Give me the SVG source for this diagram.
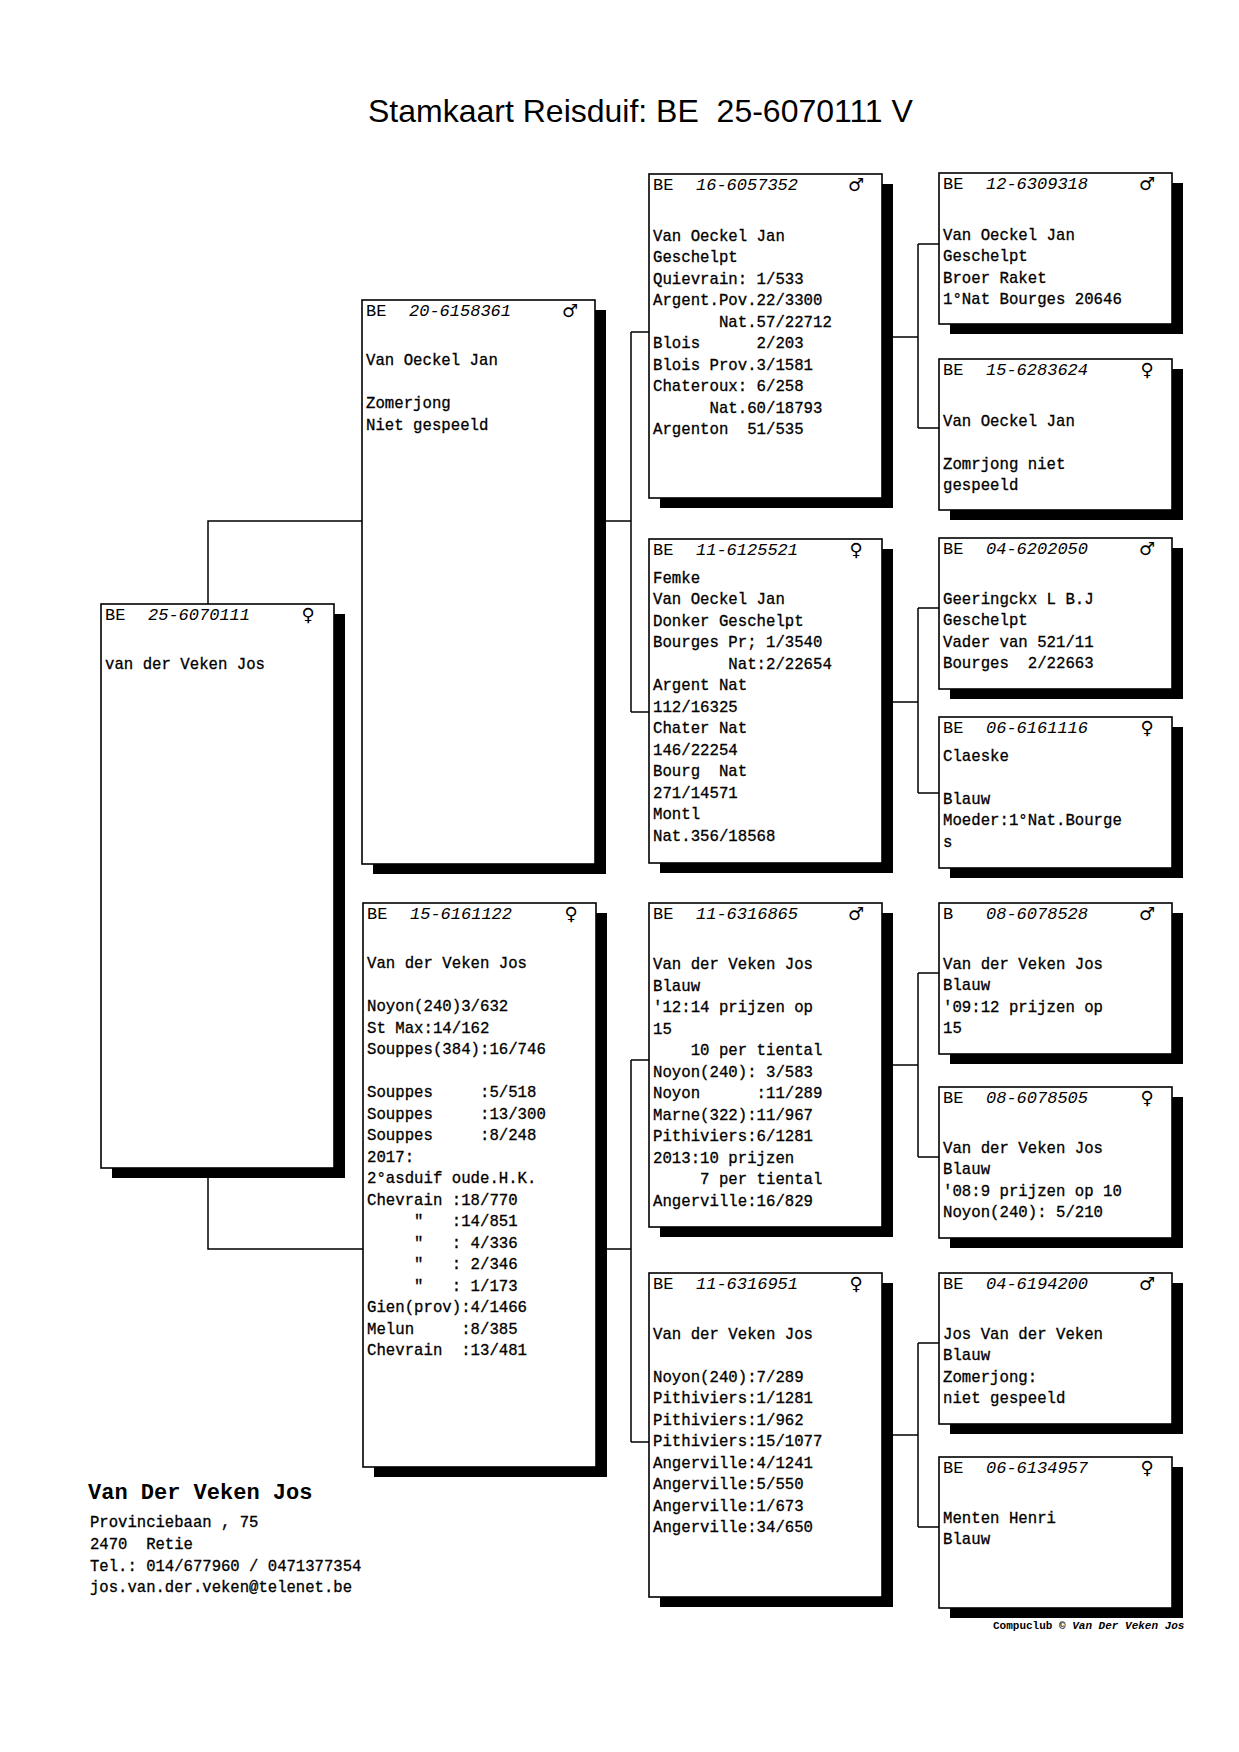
<svg xmlns="http://www.w3.org/2000/svg" width="1239" height="1752" viewBox="0 0 1239 1752">
<style>
.bg{fill:#fff}
.shadow{fill:#000}
.box{fill:#fff;stroke:#000;stroke-width:1.6}
.conn{fill:none;stroke:#000;stroke-width:1.5}
.t{font-family:"Liberation Mono","Courier New",monospace;font-size:15.7px;fill:#000;stroke:#000;stroke-width:0.3;white-space:pre}
.hb{font-family:"Liberation Mono","Courier New",monospace;font-size:17px;fill:#000;white-space:pre}
.hn{font-family:"Liberation Mono","Courier New",monospace;font-size:17px;font-style:italic;fill:#000}
.g{font-family:"DejaVu Sans",sans-serif;font-size:18px;font-weight:bold;fill:#000;text-anchor:middle}
.title{font-family:"Liberation Sans",Arial,sans-serif;font-size:32px;fill:#000;white-space:pre}
.own{font-family:"Liberation Mono","Courier New",monospace;font-size:22px;font-weight:bold;fill:#000}
.addr{font-family:"Liberation Mono","Courier New",monospace;font-size:15.6px;fill:#000;stroke:#000;stroke-width:0.3;white-space:pre}
.cc{font-family:"Liberation Mono","Courier New",monospace;font-size:11px;font-weight:bold;fill:#000}
</style>
<rect class="bg" x="0" y="0" width="1239" height="1752"/>
<text class="title" x="368" y="122">Stamkaart Reisduif: BE  25-6070111 V</text>

<g id="connectors">
<path class="conn" d="M208 604 V521 H362 M208 1168 V1249 H363"/>
<path class="conn" d="M595 521 H631 M631 332 V712 M631 332 H649 M631 712 H649"/>
<path class="conn" d="M596 1249 H631 M631 1060 V1442 M631 1060 H649 M631 1442 H649"/>
<path class="conn" d="M882 337 H918 M918 244 V428 M918 244 H939 M918 428 H939"/>
<path class="conn" d="M882 702 H918 M918 608 V793 M918 608 H939 M918 793 H939"/>
<path class="conn" d="M882 1065 H918 M918 973 V1157 M918 973 H939 M918 1157 H939"/>
<path class="conn" d="M882 1435 H918 M918 1343 V1527 M918 1343 H939 M918 1527 H939"/>
</g>

<g id="root">
<rect class="shadow" x="112" y="614" width="233" height="564"/>
<rect class="box" x="101" y="604" width="233" height="564"/>
<text class="hb" x="105" y="620">BE</text><text class="hn" x="148" y="620">25-6070111</text><text class="g" x="308" y="621">♀</text>
<text class="t" x="105" y="669">van der Veken Jos</text>
</g>

<g id="sire">
<rect class="shadow" x="373" y="310" width="233" height="564"/>
<rect class="box" x="362" y="300" width="233" height="564"/>
<text class="hb" x="366" y="316">BE</text><text class="hn" x="409" y="316">20-6158361</text><text class="g" x="570" y="317">♂</text>
<text class="t" x="366" y="365">Van Oeckel Jan</text>
<text class="t" x="366" y="408">Zomerjong</text>
<text class="t" x="366" y="429.5">Niet gespeeld</text>
</g>

<g id="dam">
<rect class="shadow" x="374" y="913" width="233" height="564"/>
<rect class="box" x="363" y="903" width="233" height="564"/>
<text class="hb" x="367" y="919">BE</text><text class="hn" x="410" y="919">15-6161122</text><text class="g" x="571" y="920">♀</text>
<text class="t" x="367" y="968">Van der Veken Jos</text>
<text class="t" x="367" y="1011">Noyon(240)3/632</text>
<text class="t" x="367" y="1032.5">St Max:14/162</text>
<text class="t" x="367" y="1054">Souppes(384):16/746</text>
<text class="t" x="367" y="1097">Souppes     :5/518</text>
<text class="t" x="367" y="1118.5">Souppes     :13/300</text>
<text class="t" x="367" y="1140">Souppes     :8/248</text>
<text class="t" x="367" y="1161.5">2017:</text>
<text class="t" x="367" y="1183">2°asduif oude.H.K.</text>
<text class="t" x="367" y="1204.5">Chevrain :18/770</text>
<text class="t" x="367" y="1226">     "   :14/851</text>
<text class="t" x="367" y="1247.5">     "   : 4/336</text>
<text class="t" x="367" y="1269">     "   : 2/346</text>
<text class="t" x="367" y="1290.5">     "   : 1/173</text>
<text class="t" x="367" y="1312">Gien(prov):4/1466</text>
<text class="t" x="367" y="1333.5">Melun     :8/385</text>
<text class="t" x="367" y="1355">Chevrain  :13/481</text>
</g>

<g id="ss">
<rect class="shadow" x="660" y="184" width="233" height="324"/>
<rect class="box" x="649" y="174" width="233" height="324"/>
<text class="hb" x="653" y="190">BE</text><text class="hn" x="696" y="190">16-6057352</text><text class="g" x="856" y="191">♂</text>
<text class="t" x="653" y="240.5">Van Oeckel Jan</text>
<text class="t" x="653" y="262">Geschelpt</text>
<text class="t" x="653" y="283.5">Quievrain: 1/533</text>
<text class="t" x="653" y="305">Argent.Pov.22/3300</text>
<text class="t" x="653" y="326.5">       Nat.57/22712</text>
<text class="t" x="653" y="348">Blois      2/203</text>
<text class="t" x="653" y="369.5">Blois Prov.3/1581</text>
<text class="t" x="653" y="391">Chateroux: 6/258</text>
<text class="t" x="653" y="412.5">      Nat.60/18793</text>
<text class="t" x="653" y="434">Argenton  51/535</text>
</g>

<g id="sd">
<rect class="shadow" x="660" y="549" width="233" height="324"/>
<rect class="box" x="649" y="539" width="233" height="324"/>
<text class="hb" x="653" y="555">BE</text><text class="hn" x="696" y="555">11-6125521</text><text class="g" x="856" y="556">♀</text>
<text class="t" x="653" y="582.5">Femke</text>
<text class="t" x="653" y="604">Van Oeckel Jan</text>
<text class="t" x="653" y="625.5">Donker Geschelpt</text>
<text class="t" x="653" y="647">Bourges Pr; 1/3540</text>
<text class="t" x="653" y="668.5">        Nat:2/22654</text>
<text class="t" x="653" y="690">Argent Nat</text>
<text class="t" x="653" y="711.5">112/16325</text>
<text class="t" x="653" y="733">Chater Nat</text>
<text class="t" x="653" y="754.5">146/22254</text>
<text class="t" x="653" y="776">Bourg  Nat</text>
<text class="t" x="653" y="797.5">271/14571</text>
<text class="t" x="653" y="819">Montl</text>
<text class="t" x="653" y="840.5">Nat.356/18568</text>
</g>

<g id="ds">
<rect class="shadow" x="660" y="913" width="233" height="324"/>
<rect class="box" x="649" y="903" width="233" height="324"/>
<text class="hb" x="653" y="919">BE</text><text class="hn" x="696" y="919">11-6316865</text><text class="g" x="856" y="920">♂</text>
<text class="t" x="653" y="969">Van der Veken Jos</text>
<text class="t" x="653" y="990.5">Blauw</text>
<text class="t" x="653" y="1012">'12:14 prijzen op</text>
<text class="t" x="653" y="1033.5">15</text>
<text class="t" x="653" y="1055">    10 per tiental</text>
<text class="t" x="653" y="1076.5">Noyon(240): 3/583</text>
<text class="t" x="653" y="1098">Noyon      :11/289</text>
<text class="t" x="653" y="1119.5">Marne(322):11/967</text>
<text class="t" x="653" y="1141">Pithiviers:6/1281</text>
<text class="t" x="653" y="1162.5">2013:10 prijzen</text>
<text class="t" x="653" y="1184">     7 per tiental</text>
<text class="t" x="653" y="1205.5">Angerville:16/829</text>
</g>

<g id="dd">
<rect class="shadow" x="660" y="1283" width="233" height="324"/>
<rect class="box" x="649" y="1273" width="233" height="324"/>
<text class="hb" x="653" y="1289">BE</text><text class="hn" x="696" y="1289">11-6316951</text><text class="g" x="856" y="1290">♀</text>
<text class="t" x="653" y="1338.5">Van der Veken Jos</text>
<text class="t" x="653" y="1381.5">Noyon(240):7/289</text>
<text class="t" x="653" y="1403">Pithiviers:1/1281</text>
<text class="t" x="653" y="1424.5">Pithiviers:1/962</text>
<text class="t" x="653" y="1446">Pithiviers:15/1077</text>
<text class="t" x="653" y="1467.5">Angerville:4/1241</text>
<text class="t" x="653" y="1489">Angerville:5/550</text>
<text class="t" x="653" y="1510.5">Angerville:1/673</text>
<text class="t" x="653" y="1532">Angerville:34/650</text>
</g>

<g id="sss">
<rect class="shadow" x="950" y="183" width="233" height="151"/>
<rect class="box" x="939" y="173" width="233" height="151"/>
<text class="hb" x="943" y="189">BE</text><text class="hn" x="986" y="189">12-6309318</text><text class="g" x="1147" y="190">♂</text>
<text class="t" x="943" y="239.5">Van Oeckel Jan</text>
<text class="t" x="943" y="261">Geschelpt</text>
<text class="t" x="943" y="282.5">Broer Raket</text>
<text class="t" x="943" y="304">1°Nat Bourges 20646</text>
</g>

<g id="ssd">
<rect class="shadow" x="950" y="369" width="233" height="151"/>
<rect class="box" x="939" y="359" width="233" height="151"/>
<text class="hb" x="943" y="375">BE</text><text class="hn" x="986" y="375">15-6283624</text><text class="g" x="1147" y="376">♀</text>
<text class="t" x="943" y="425.5">Van Oeckel Jan</text>
<text class="t" x="943" y="468.5">Zomrjong niet</text>
<text class="t" x="943" y="490">gespeeld</text>
</g>

<g id="sds">
<rect class="shadow" x="950" y="548" width="233" height="151"/>
<rect class="box" x="939" y="538" width="233" height="151"/>
<text class="hb" x="943" y="554">BE</text><text class="hn" x="986" y="554">04-6202050</text><text class="g" x="1147" y="555">♂</text>
<text class="t" x="943" y="603.5">Geeringckx L B.J</text>
<text class="t" x="943" y="625">Geschelpt</text>
<text class="t" x="943" y="646.5">Vader van 521/11</text>
<text class="t" x="943" y="668">Bourges  2/22663</text>
</g>

<g id="sdd">
<rect class="shadow" x="950" y="727" width="233" height="151"/>
<rect class="box" x="939" y="717" width="233" height="151"/>
<text class="hb" x="943" y="733">BE</text><text class="hn" x="986" y="733">06-6161116</text><text class="g" x="1147" y="734">♀</text>
<text class="t" x="943" y="760.5">Claeske</text>
<text class="t" x="943" y="803.5">Blauw</text>
<text class="t" x="943" y="825">Moeder:1°Nat.Bourge</text>
<text class="t" x="943" y="846.5">s</text>
</g>

<g id="dss">
<rect class="shadow" x="950" y="913" width="233" height="151"/>
<rect class="box" x="939" y="903" width="233" height="151"/>
<text class="hb" x="943" y="919">B</text><text class="hn" x="986" y="919">08-6078528</text><text class="g" x="1147" y="920">♂</text>
<text class="t" x="943" y="968.5">Van der Veken Jos</text>
<text class="t" x="943" y="990">Blauw</text>
<text class="t" x="943" y="1011.5">'09:12 prijzen op</text>
<text class="t" x="943" y="1033">15</text>
</g>

<g id="dsd">
<rect class="shadow" x="950" y="1097" width="233" height="151"/>
<rect class="box" x="939" y="1087" width="233" height="151"/>
<text class="hb" x="943" y="1103">BE</text><text class="hn" x="986" y="1103">08-6078505</text><text class="g" x="1147" y="1104">♀</text>
<text class="t" x="943" y="1152.5">Van der Veken Jos</text>
<text class="t" x="943" y="1174">Blauw</text>
<text class="t" x="943" y="1195.5">'08:9 prijzen op 10</text>
<text class="t" x="943" y="1217">Noyon(240): 5/210</text>
</g>

<g id="dds">
<rect class="shadow" x="950" y="1283" width="233" height="151"/>
<rect class="box" x="939" y="1273" width="233" height="151"/>
<text class="hb" x="943" y="1289">BE</text><text class="hn" x="986" y="1289">04-6194200</text><text class="g" x="1147" y="1290">♂</text>
<text class="t" x="943" y="1338.5">Jos Van der Veken</text>
<text class="t" x="943" y="1360">Blauw</text>
<text class="t" x="943" y="1381.5">Zomerjong:</text>
<text class="t" x="943" y="1403">niet gespeeld</text>
</g>

<g id="ddd">
<rect class="shadow" x="950" y="1467" width="233" height="151"/>
<rect class="box" x="939" y="1457" width="233" height="151"/>
<text class="hb" x="943" y="1473">BE</text><text class="hn" x="986" y="1473">06-6134957</text><text class="g" x="1147" y="1474">♀</text>
<text class="t" x="943" y="1522.5">Menten Henri</text>
<text class="t" x="943" y="1544">Blauw</text>
</g>

<g id="owner">
<text class="own" x="88" y="1499">Van Der Veken Jos</text>
<text class="addr" x="90" y="1527">Provinciebaan , 75</text>
<text class="addr" x="90" y="1549">2470  Retie</text>
<text class="addr" x="90" y="1570.5">Tel.: 014/677960 / 0471377354</text>
<text class="addr" x="90" y="1592">jos.van.der.veken@telenet.be</text>
</g>
<text class="cc" x="993" y="1629">Compuclub © <tspan font-style="italic">Van Der Veken Jos</tspan></text>
</svg>
